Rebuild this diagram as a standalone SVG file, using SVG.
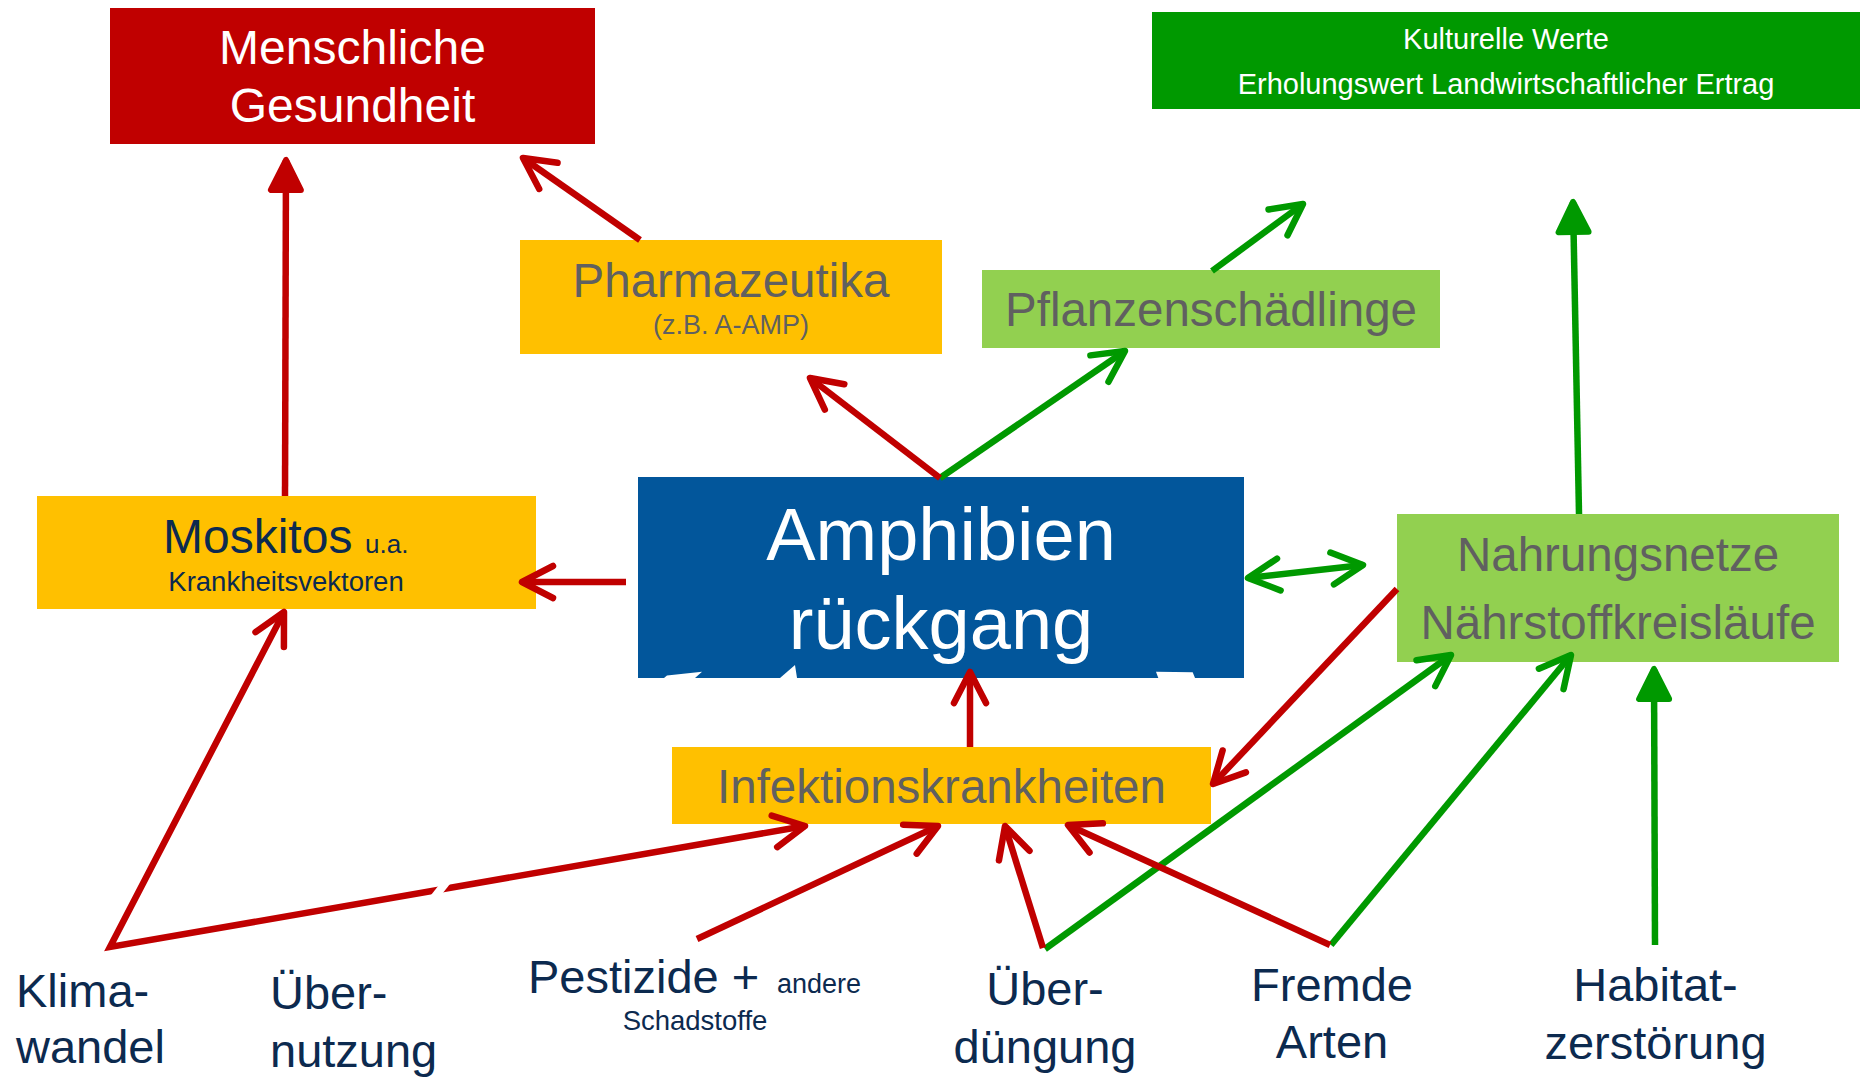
<svg xmlns="http://www.w3.org/2000/svg" width="1863" height="1078" viewBox="0 0 1863 1078">
<style>
text{font-family:"Liberation Sans",Arial,sans-serif}
.w{fill:#FFFFFF}
.g{fill:#606060}
.n{fill:#0C2A4F}
.c{text-anchor:middle}
.red{stroke:#C00000;stroke-width:6.5;fill:none;stroke-linejoin:miter}
.grn{stroke:#009900;stroke-width:6.5;fill:none;stroke-linejoin:miter}
</style>
<defs>
<marker id="ar" markerUnits="userSpaceOnUse" markerWidth="60" markerHeight="60" viewBox="-45 -30 60 60" refX="0" refY="0" orient="auto-start-reverse" overflow="visible">
<path d="M-31,-16 L0,0 L-31,16" fill="none" stroke="#C00000" stroke-width="6.5" stroke-linecap="round" stroke-linejoin="round"/>
</marker>
<marker id="ag" markerUnits="userSpaceOnUse" markerWidth="60" markerHeight="60" viewBox="-45 -30 60 60" refX="0" refY="0" orient="auto-start-reverse" overflow="visible">
<path d="M-31,-16 L0,0 L-31,16" fill="none" stroke="#009900" stroke-width="6.5" stroke-linecap="round" stroke-linejoin="round"/>
</marker>
<marker id="afr" markerUnits="userSpaceOnUse" markerWidth="60" markerHeight="60" viewBox="-45 -30 60 60" refX="0" refY="0" orient="auto" overflow="visible">
<path d="M0,0 L-30,-15 L-30,15 Z" fill="#C00000" stroke="#C00000" stroke-width="6" stroke-linejoin="round"/>
</marker>
<marker id="afg" markerUnits="userSpaceOnUse" markerWidth="60" markerHeight="60" viewBox="-45 -30 60 60" refX="0" refY="0" orient="auto" overflow="visible">
<path d="M0,0 L-30,-15 L-30,15 Z" fill="#009900" stroke="#009900" stroke-width="6" stroke-linejoin="round"/>
</marker>
</defs>
<rect width="1863" height="1078" fill="#FFFFFF"/>

<g id="menschliche-gesundheit">
<rect x="110" y="8" width="485" height="136" fill="#C00000"/>
<text class="w c" x="352.5" y="64" font-size="48">Menschliche</text>
<text class="w c" x="352.5" y="122" font-size="48">Gesundheit</text>
</g>

<g id="kulturelle-werte">
<rect x="1152" y="12" width="708" height="97" fill="#009900"/>
<text class="w c" x="1506" y="49" font-size="29">Kulturelle Werte</text>
<text class="w c" x="1506" y="94" font-size="29">Erholungswert Landwirtschaftlicher Ertrag</text>
</g>

<g id="pharmazeutika">
<rect x="520" y="240" width="422" height="114" fill="#FFC000"/>
<text class="g c" x="731" y="297" font-size="47.5">Pharmazeutika</text>
<text class="g c" x="731" y="334" font-size="27">(z.B. A-AMP)</text>
</g>

<g id="pflanzenschaedlinge">
<rect x="982" y="270" width="458" height="78" fill="#92D050"/>
<text class="g c" x="1211" y="326" font-size="47.5">Pflanzenschädlinge</text>
</g>

<g id="moskitos">
<rect x="37" y="496" width="499" height="113" fill="#FFC000"/>
<text class="n" x="163" y="553" font-size="48">Moskitos</text>
<text class="n" x="365" y="553" font-size="26">u.a.</text>
<text class="n c" x="286" y="591" font-size="27.5">Krankheitsvektoren</text>
</g>

<g id="amphibienrueckgang">
<rect x="638" y="477" width="606" height="201" fill="#02569B"/>
<text class="w c" x="941" y="560" font-size="74">Amphibien</text>
<text class="w c" x="941" y="649" font-size="74">rückgang</text>
<polygon points="664,678 667,675.5 702,671.7 695,678" fill="#FFFFFF"/>
<polygon points="780,678 795,665 797,678" fill="#FFFFFF"/>
<polygon points="1156,671.7 1192.7,672.3 1195,678 1158.3,678" fill="#FFFFFF"/>
</g>

<g id="nahrungsnetze">
<rect x="1397" y="514" width="442" height="148" fill="#92D050"/>
<text class="g c" x="1618" y="571" font-size="47.5">Nahrungsnetze</text>
<text class="g c" x="1618" y="639" font-size="47.5">Nährstoffkreisläufe</text>
</g>

<g id="infektionskrankheiten">
<rect x="672" y="747" width="539" height="77" fill="#FFC000"/>
<text class="g c" x="941.5" y="803" font-size="47.5">Infektionskrankheiten</text>
</g>

<g id="klimawandel">
<text class="n" x="16" y="1007" font-size="47">Klima-</text>
<text class="n" x="16" y="1063" font-size="47">wandel</text>
</g>

<g id="uebernutzung">
<text class="n" x="270" y="1009" font-size="47">Über-</text>
<text class="n" x="270" y="1067" font-size="47">nutzung</text>
</g>

<g id="pestizide">
<text class="n" x="528" y="993" font-size="47">Pestizide +</text>
<text class="n" x="777" y="993" font-size="27">andere</text>
<text class="n c" x="695" y="1030" font-size="27.5">Schadstoffe</text>
</g>

<g id="ueberduengung">
<text class="n c" x="1045" y="1005" font-size="47">Über-</text>
<text class="n c" x="1045" y="1063" font-size="47">düngung</text>
</g>

<g id="fremde-arten">
<text class="n c" x="1332" y="1001" font-size="47">Fremde</text>
<text class="n c" x="1332" y="1058" font-size="47">Arten</text>
</g>

<g id="habitatzerstoerung">
<text class="n c" x="1655.5" y="1001" font-size="47">Habitat-</text>
<text class="n c" x="1655.5" y="1059" font-size="47">zerstörung</text>
</g>

<g id="connectors">
<path class="grn" d="M940,478 L1125,351" marker-end="url(#ag)"/>
<path class="grn" d="M1212,271 L1303,204" marker-end="url(#ag)"/>
<path class="grn" d="M1579,514 L1573,202" marker-end="url(#afg)"/>
<path class="grn" d="M1248,578 L1363,565" marker-start="url(#ag)" marker-end="url(#ag)"/>
<path class="grn" d="M1045,949 L1451,655" marker-end="url(#ag)"/>
<path class="grn" d="M1331,945 L1571,655" marker-end="url(#ag)"/>
<path class="grn" d="M1655,945 L1654,669" marker-end="url(#afg)"/>

<path class="red" d="M285,496 L286,160" marker-end="url(#afr)"/>
<path class="red" d="M640,240 L523,158" marker-end="url(#ar)"/>
<path class="red" d="M940,478 L810,378" marker-end="url(#ar)"/>
<path class="red" d="M626,582 L522,582" marker-end="url(#ar)"/>
<path class="red" d="M284,612 L110,947 L805,826" marker-start="url(#ar)" marker-end="url(#ar)"/>
<path d="M452,875 L433,899" stroke="#FFFFFF" stroke-width="8" fill="none"/>
<path class="red" d="M697,939 L938,826" marker-end="url(#ar)"/>
<path class="red" d="M1043,948 L1005,826" marker-end="url(#ar)"/>
<path class="red" d="M1330,945 L1068,825" marker-end="url(#ar)"/>
<path class="red" d="M1397,589 L1213,784" marker-end="url(#ar)"/>
<path class="red" d="M970,747 L970,672" marker-end="url(#ar)"/>
</g>
</svg>
